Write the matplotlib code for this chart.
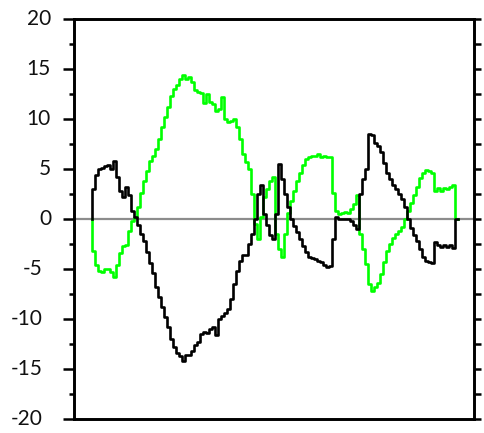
import matplotlib
matplotlib.use("Agg")
import matplotlib.pyplot as plt
from matplotlib.ticker import MultipleLocator
from matplotlib.transforms import ScaledTranslation
import numpy as np

# sample index (uniform spacing)
black = [0.0, 3.0, 4.4, 5.0, 5.1, 5.3, 5.4, 5.0, 5.8, 4.2,
         2.8, 2.2, 3.2, 2.4, 0.8, 0.2, -0.6, -1.5, -2.2, -3.3,
         -4.4, -5.4, -6.8, -7.8, -8.8, -9.8, -10.8, -12.0, -12.8, -13.4,
         -13.7, -14.2, -13.6, -13.6, -13.2, -12.6, -12.3, -11.5, -11.3, -11.4,
         -11.0, -10.8, -11.6, -10.0, -9.7, -9.4, -9.0, -8.0, -6.5, -5.2,
         -4.2, -3.6, -3.6, -2.5, -1.5, 0.0, 2.5, 3.4, 0.5, -0.6,
         -1.6, -2.0, 0.5, 5.5, 4.0, 2.5, 1.2, 0.0, -0.7, -1.3,
         -2.0, -2.7, -3.3, -3.8, -3.9, -4.0, -4.2, -4.3, -4.6, -4.8,
         -4.7, -2.0, 0.2, 0.0, 0.0, 0.0, 0.0, -0.2, -0.6, -1.0,
         2.5, 4.0, 5.0, 8.5, 8.4, 7.6, 7.3, 6.7, 5.6, 4.6,
         4.0, 3.4, 3.0, 2.5, 2.0, 1.2, 0.0, -0.9, -1.6, -2.2,
         -3.0, -3.8, -4.2, -4.3, -4.4, -2.3, -2.6, -2.8, -2.6, -2.8,
         -2.6, -2.9, 0.0]

green = [0.0, -3.2, -4.6, -5.2, -5.3, -5.0, -5.0, -5.3, -5.8, -4.6,
         -3.4, -2.7, -2.6, -1.2, -0.2, 0.2, 1.2, 2.6, 3.8, 4.8,
         5.8, 6.3, 7.0, 8.0, 9.2, 10.2, 11.2, 12.3, 13.0, 13.4,
         14.0, 14.4, 14.0, 14.2, 13.7, 12.9, 12.7, 12.6, 11.6, 12.5,
         11.7, 11.5, 10.8, 11.0, 12.2, 10.0, 9.7, 9.8, 10.0, 9.2,
         8.0, 6.5, 5.7, 5.0, 2.5, -0.5, -2.0, 0.2, 2.2, 3.0,
         3.8, 4.2, -1.5, -3.0, -3.8, -1.5, 0.6, 1.8, 2.8, 3.8,
         4.6, 5.4, 6.0, 6.2, 6.3, 6.3, 6.5, 6.2, 6.3, 6.2,
         6.2, 2.6, 0.8, 0.5, 0.6, 0.7, 0.6, 1.0, 1.5, 2.4,
         -1.5, -3.0, -4.5, -6.5, -7.2, -6.8, -6.4, -5.5, -4.3, -3.2,
         -2.5, -1.9, -1.5, -1.2, -0.8, 0.0, 0.8, 1.6, 2.4, 3.2,
         4.1, 4.6, 4.9, 4.8, 4.6, 2.8, 3.1, 2.8, 3.1, 3.0,
         3.2, 3.4, 0.0]

ytick_vals = [-20, -15, -10, -5, 0, 5, 10, 15, 20]
ytick_labels = ["-20", "-15", "-10", "-5", "0", "5", "10", "15", "20"]

x = np.arange(len(black))

plt.rcParams["font.family"] = ["Lato", "DejaVu Sans"]

fig = plt.figure(figsize=(4.84, 4.33), dpi=100)
ax = fig.add_axes([74/484, 1-419/433, 400/484, 400/433])

ax.axhline(0, color="#8c8c8c", lw=1.6, zorder=1)
ax.plot(x, green, color="#00ff00", lw=1.9, drawstyle="steps-pre", zorder=2)
ax.plot(x, black, color="black", lw=1.9, drawstyle="steps-pre", zorder=3)

ax.set_xlim(-6, 127.33)
ax.set_ylim(-20, 20)
ax.set_xticks([])
ax.set_yticks(ytick_vals)
ax.set_yticklabels([])
ax.yaxis.set_minor_locator(MultipleLocator(2.5))
ax.tick_params(axis="y", which="major", length=8, width=1.8, direction="out")
ax.tick_params(axis="y", which="minor", length=3.8, width=1.8, direction="out")
for s in ax.spines.values():
    s.set_linewidth(1.9)

# tick labels: right edge of positive labels ~12 px left of tick start,
# negative labels a little further left (as in the reference)
for v, lab in zip(ytick_vals, ytick_labels):
    dx = -23 if v >= 0 else -31
    tr = ax.get_yaxis_transform() + ScaledTranslation(dx/100, 0, fig.dpi_scale_trans)
    ax.text(0, v, lab, transform=tr, ha="right", va="center", fontsize=15,
            color="#111111", clip_on=False)

ax2 = ax.twinx()
ax2.set_ylim(-20, 20)
ax2.set_yticks(ytick_vals)
ax2.yaxis.set_minor_locator(MultipleLocator(2.5))
ax2.tick_params(axis="y", which="both", length=5, width=1.8, direction="out",
                labelright=False)
for s in ax2.spines.values():
    s.set_linewidth(1.9)

fig.savefig("out.png", dpi=100)
